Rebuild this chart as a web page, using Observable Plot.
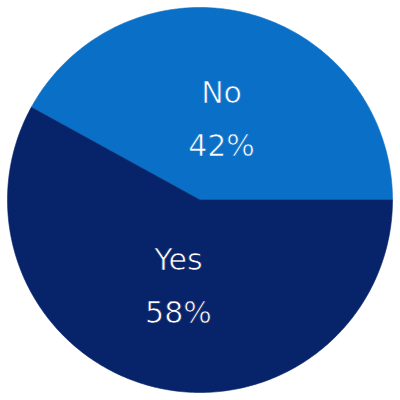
<!DOCTYPE html>
<html>
<head>
<meta charset="utf-8">
<script src="https://cdn.jsdelivr.net/npm/d3@7"></script>
<script src="https://cdn.jsdelivr.net/npm/@observablehq/plot@0.6"></script>
<style>
  html, body { margin: 0; padding: 0; background: #ffffff; }
  #chart { width: 400px; height: 400px; }
</style>
</head>
<body>
<div id="chart"></div>
<script>
const categories = ["No", "Yes"];
const values = [42, 58];
const colors = ["#0a6fc7", "#072369"];

const total = d3.sum(values);
const data = categories.map((c, i) => ({cat: c, value: values[i]}));
// boundary between No and Yes sits at 3 o'clock
const pie = d3.pie().sort(null).value(d => d.value)
  .startAngle(Math.PI / 2 - 2 * Math.PI * values[0] / total);
const arcs = pie(data);

const steps = 240;
const polys = [];
for (const a of arcs) {
  polys.push({cat: a.data.cat, x: 0, y: 0});
  for (let k = 0; k <= steps; k++) {
    const t = a.startAngle + (a.endAngle - a.startAngle) * k / steps;
    polys.push({cat: a.data.cat, x: Math.sin(t), y: Math.cos(t)});
  }
  polys.push({cat: a.data.cat, x: 0, y: 0});
}
const labelR = 0.45;
const labels = arcs.map(a => {
  const m = (a.startAngle + a.endAngle) / 2;
  return {cat: a.data.cat, x: labelR * Math.sin(m), y: labelR * Math.cos(m),
          text: `${a.data.cat}\n${Math.round(100 * a.data.value / total)}%`};
});

const chart = Plot.plot({
  width: 400,
  height: 400,
  marginLeft: 7, marginRight: 8, marginTop: 7, marginBottom: 8,
  x: {domain: [-1, 1], axis: null},
  y: {domain: [-1, 1], axis: null},
  color: {domain: categories, range: colors},
  style: {background: "#ffffff", fontFamily: "'DejaVu Sans', sans-serif"},
  marks: [
    Plot.line(polys, {x: "x", y: "y", z: "cat", fill: "cat", stroke: "cat", strokeWidth: 0.6, curve: "linear"}),
    Plot.text(labels, {x: "x", y: "y", dy: -4, text: "text", fill: "white", stroke: "cat", strokeWidth: 0.7, paintOrder: "normal", fontSize: 30, lineHeight: 1.77, textAnchor: "middle", lineAnchor: "middle", fontWeight: 400})
  ]
});
document.getElementById("chart").appendChild(chart);
</script>
</body>
</html>
